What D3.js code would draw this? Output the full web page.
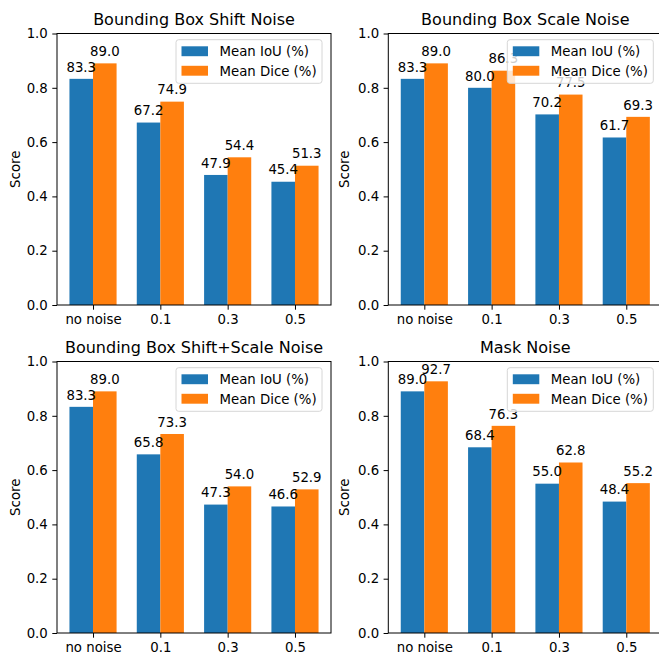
<!DOCTYPE html>
<html>
<head>
<meta charset="utf-8">
<script src="https://cdn.jsdelivr.net/npm/d3@7"></script>
<style>
  html, body { margin: 0; padding: 0; background: #ffffff; }
  svg { display: block; font-family: "DejaVu Sans", sans-serif; }
</style>
</head>
<body>
<svg id="chart" width="659" height="654"></svg>
<script>
// ---- data ----
const categories = ["no noise", "0.1", "0.3", "0.5"];
const titles = ["Bounding Box Shift Noise", "Bounding Box Scale Noise", "Bounding Box Shift+Scale Noise", "Mask Noise"];
const seriesNames = ["Mean IoU (%)", "Mean Dice (%)"];
const iouShift = [83.3, 67.2, 47.9, 45.4];
const diceShift = [89.0, 74.9, 54.4, 51.3];
const iouScale = [83.3, 80.0, 70.2, 61.7];
const diceScale = [89.0, 86.3, 77.5, 69.3];
const iouShiftScale = [83.3, 65.8, 47.3, 46.6];
const diceShiftScale = [89.0, 73.3, 54.0, 52.9];
const iouMask = [89.0, 68.4, 55.0, 48.4];
const diceMask = [92.7, 76.3, 62.8, 55.2];
const yTicks = [0.0, 0.2, 0.4, 0.6, 0.8, 1.0];

const panelData = [
  [iouShift, diceShift],
  [iouScale, diceScale],
  [iouShiftScale, diceShiftScale],
  [iouMask, diceMask]
];
const colors = ["#1f77b4", "#ff7f0e"];

// ---- layout ----
const axW = 274;
const lefts = [57, 388.3];
const tops = [33.5, 361.5];
const axH = 271.5;
const barW = 0.35;
const fs = 13.3;

const svg = d3.select("#chart");

panelData.forEach((series, p) => {
  const col = p % 2, row = Math.floor(p / 2);
  const x0 = lefts[col], y0 = tops[row];
  const g = svg.append("g").attr("transform", `translate(${x0},${y0})`);

  const x = d3.scaleLinear().domain([-0.535, 3.535]).range([0, axW]);
  const y = d3.scaleLinear().domain([0, 1]).range([axH, 0]);

  // bars
  series.forEach((vals, s) => {
    const off = s === 0 ? -barW : 0;
    g.selectAll(null).data(vals).enter().append("rect")
      .attr("x", (d, i) => x(i + off))
      .attr("y", d => y(d / 100))
      .attr("width", x(barW) - x(0))
      .attr("height", d => y(0) - y(d / 100))
      .attr("fill", colors[s]);
  });

  // value labels
  series.forEach((vals, s) => {
    const off = s === 0 ? -barW / 2 : barW / 2;
    g.selectAll(null).data(vals).enter().append("text")
      .attr("x", (d, i) => x(i + off))
      .attr("y", d => y(d / 100) - 7.3)
      .attr("text-anchor", "middle")
      .attr("font-size", fs)
      .attr("fill", "#000")
      .text(d => d.toFixed(1));
  });

  // axes
  const yAxis = d3.axisLeft(y).tickValues(yTicks).tickFormat(d3.format(".1f"))
    .tickSize(4.7).tickPadding(4.5);
  const xAxis = d3.axisBottom(x).tickValues([0, 1, 2, 3]).tickFormat(i => categories[i])
    .tickSize(4.7).tickPadding(4.5);

  const ya = g.append("g").call(yAxis);
  const xa = g.append("g").attr("transform", `translate(0,${axH})`).call(xAxis);
  [ya, xa].forEach(a => {
    a.select(".domain").remove();
    a.selectAll("line").attr("stroke", "#000").attr("stroke-width", 1);
    a.selectAll("text").attr("font-size", fs).attr("fill", "#000")
      .attr("font-family", "DejaVu Sans, sans-serif");
  });
  xa.selectAll("text").attr("dy", "0.74em");

  // spines
  g.append("rect").attr("x", 0).attr("y", 0).attr("width", axW).attr("height", axH)
    .attr("fill", "none").attr("stroke", "#000").attr("stroke-width", 1);

  // y label
  g.append("text")
    .attr("transform", `translate(${(col === 0 ? 16 : 345) - x0 + 4},${axH / 2}) rotate(-90)`)
    .attr("text-anchor", "middle").attr("font-size", fs).attr("fill", "#000")
    .text("Score");

  // title
  svg.append("text")
    .attr("x", x0 + axW / 2).attr("y", y0 - 8.5)
    .attr("text-anchor", "middle").attr("font-size", 16).attr("fill", "#000")
    .text(titles[p]);

  // legend
  const lgW = 146, lgH = 43.6;
  const lg = g.append("g").attr("transform", `translate(${axW - 9 - lgW},6.2)`);
  lg.append("rect").attr("width", lgW).attr("height", lgH).attr("rx", 2.7)
    .attr("fill", "#fff").attr("fill-opacity", 0.8)
    .attr("stroke", "#d6d6d6").attr("stroke-width", 1);
  seriesNames.forEach((name, s) => {
    const cy = 11.6 + s * 19.5;
    lg.append("rect").attr("x", 5.5).attr("y", cy - 5).attr("width", 26.5).attr("height", 9.9)
      .attr("fill", colors[s]);
    lg.append("text").attr("x", 43.5).attr("y", cy + 4.8)
      .attr("font-size", fs).attr("fill", "#000").text(name);
  });
});
</script>
</body>
</html>
